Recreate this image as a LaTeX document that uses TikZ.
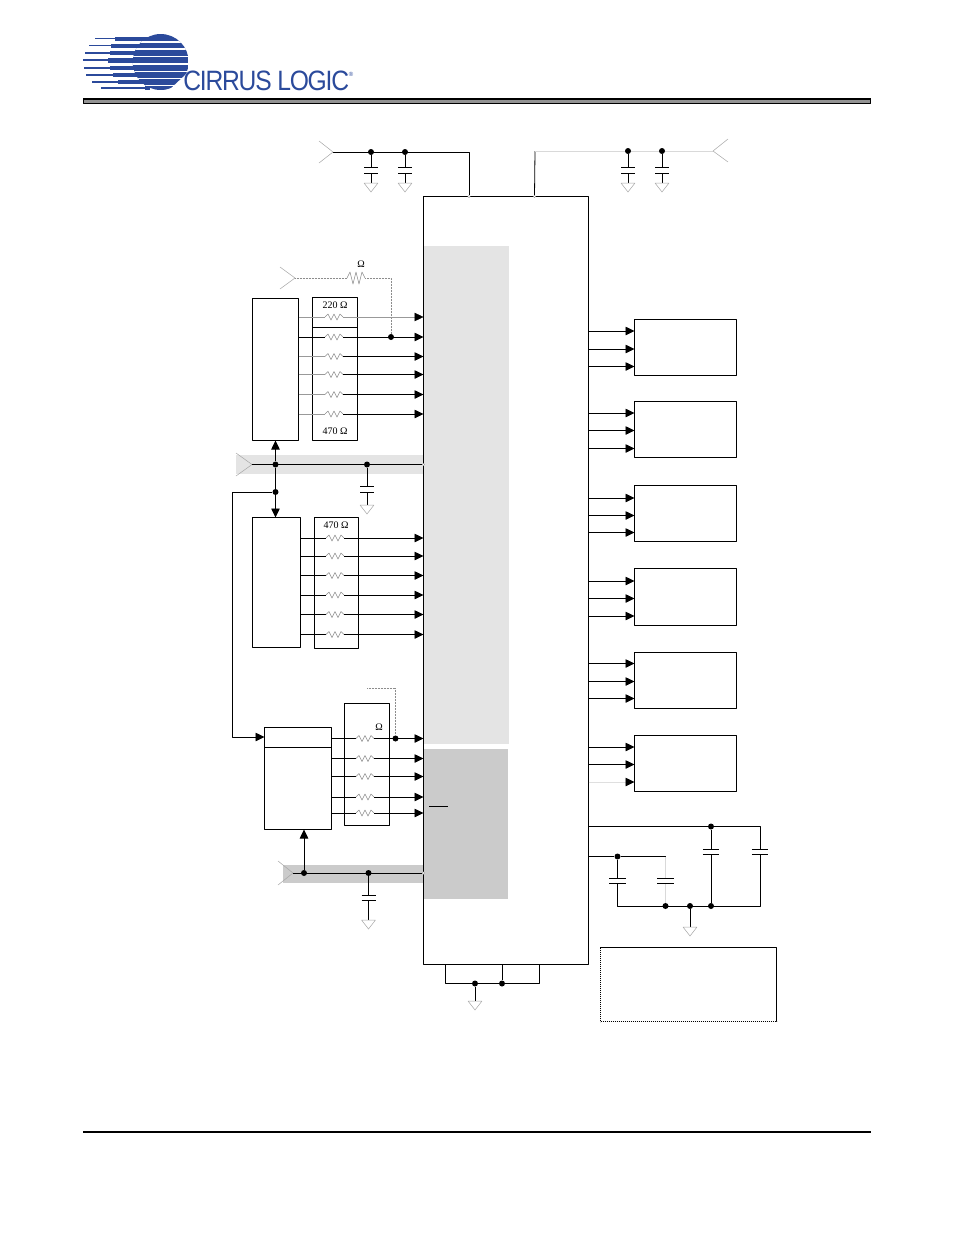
\documentclass[tikz,border=0pt]{standalone}
\usepackage{fontspec}
\setmainfont{Liberation Serif}
\newfontfamily\logofont[LetterSpace=-5]{Liberation Sans}
\usetikzlibrary{arrows.meta}
\definecolor{cirrusblue}{HTML}{2B4A9B}
\definecolor{shadeA}{HTML}{E4E4E4}
\definecolor{shadeB}{HTML}{CBCBCB}
\tikzset{
	block/.style={draw,inner sep=0pt,outer sep=0pt,anchor=north west},
	junc/.style={circle,fill=black,inner sep=0pt,minimum size=6pt},
	pin/.style={circle,draw=gray,fill=white,line width=.3pt,inner sep=0pt,minimum size=2.5pt},
	sig/.style={-{Triangle[length=9pt,width=8.5pt,color=black]}},
	thinw/.style={draw=gray!80,line width=.5pt},
	chev/.style={draw=gray!70,line width=.5pt},
	dotw/.style={draw=gray!90,line width=.6pt,dash pattern=on 1pt off .5pt},
	lab/.style={inner sep=0pt,font=\fontsize{10}{11}\selectfont},
	resis/.pic={\draw[draw=gray!90,line width=.5pt] (-9,0)--(-6,-3)--(-3,3)--(0,-3)--(3,3)--(6,-3)--(9,0);},
	capv/.pic={\draw[line width=.8pt] (-7,-2.8)--(7,-2.8) (-7,2.8)--(7,2.8);},
	gnd/.pic={\draw[chev] (-7,0)--(7,0)--(0,9)--cycle;}
}
\begin{document}
\begin{tikzpicture}[x=1pt,y=-1pt,line width=.8pt,line join=round,>=stealth]
	\useasboundingbox (0,0) rectangle (954,1235);
	% logo
	\begin{scope}
		\clip (160.7,62) circle (28);
		\fill[cirrusblue] (132,34) rectangle (189,90);
		\foreach \y in {42,49,56.3,64,71.3,78.7,85.3}
		\fill[white] (130,\y-.6) rectangle (190,\y+.6);
	\end{scope}
	\foreach \y/\xa/\xb in {38.5/95/115,45.5/89/111,52.7/85/110,60.2/83/108,67.7/84/110,75/86/113,82/92/118,88/101/145}{
		\fill[cirrusblue] (\xa,\y-.9) rectangle (150,\y+.9);
		\fill[cirrusblue] (\xb,\y-1.9) rectangle (150,\y+2.4);
	}
	\fill[white] (190,70.5)--(168,91)--(192,92)--cycle;
	\node[anchor=west,inner sep=0pt,text=cirrusblue] (logotxt) at (183,81) {\scalebox{.88}[1]{\logofont\fontsize{28}{30}\selectfont CIRRUS LOGIC}};
	\node[inner sep=0pt,text=cirrusblue] (regmark) at (351,74) {\logofont\fontsize{6}{6}\selectfont ®};
	% header and footer rules
	\node[block,fill=gray!85,minimum width=787.5,minimum height=5] (hdr) at (83,98.7) {};
	\draw[line width=1.6pt] (hdr.north west)--(hdr.north east);
	\coordinate (ftl) at (83,1132);
	\coordinate (ftr) at (871,1132);
	\draw[line width=1.5pt] (ftl)--(ftr);
	% shaded parts
	\fill[shadeA] (424,246) rectangle (509,744);
	\fill[shadeB] (424,749) rectangle (508,899);
	\fill[shadeA] (236,455) rectangle (423,474);
	\fill[shadeB] (283,865) rectangle (423,883);
	% boxes
	\node[block,minimum width=165,minimum height=768] (chip) at (423.5,196.5) {};
	\node[block,minimum width=46,minimum height=142.5] (bufA) at (252.5,298) {};
	\node[block,minimum width=45,minimum height=143] (netA) at (312.5,297.5) {};
	\node[block,minimum width=48,minimum height=130] (bufB) at (252.5,517.5) {};
	\node[block,minimum width=44,minimum height=131] (netB) at (314.5,517.5) {};
	\node[block,minimum width=67,minimum height=102] (bufC) at (264.5,727.5) {};
	\node[block,minimum width=45,minimum height=122] (netC) at (344.5,703.5) {};
	\foreach \n/\y/\h in {dacA/319.5/56,dacB/401.5/56,dacC/485.5/56,dacD/568.5/57,dacE/652.5/56,dacF/735.5/56}
	\node[block,minimum width=102,minimum height=\h] (\n) at (634.5,\y) {};
	\node[block,dash pattern=on 1.2pt off .8pt,minimum width=176,minimum height=74] (note) at (600.5,947.5) {};
	\draw (netA.west |- 0,327)--(netA.east |- 0,327);
	\draw (bufC.west |- 0,747)--(bufC.east |- 0,747);
	\coordinate (barl) at (429,806);
	\coordinate (barr) at (448,806);
	\draw (barl)--(barr);
	% supply rails
	\coordinate (pva) at (333,152);
	\coordinate (pvd) at (713,151);
	\coordinate (ra) at (469,152);
	\coordinate (rd) at (535,151);
	\node[pin] (pina) at (469,196.5) {};
	\node[pin] (pind) at (534.5,196.5) {};
	\draw (pva)--(ra)--(pina);
	\draw (rd)--(pind);
	\draw[draw=gray!30] (rd)--(pvd);
	\draw[chev] (319,141)--(pva)--(319,163);
	\draw[chev] (728,139)--(pvd)--(728,162);
	\foreach \n/\x/\y in {a/371/152,b/405/152,c/628/151,d/662/151}{
		\node[junc] (j\n) at (\x,\y) {};
		\coordinate (pa\n) at (\x,168);
		\coordinate (pb\n) at (\x,173);
		\coordinate (g\n) at (\x,183);
		\draw (j\n)--(pa\n) (pb\n)--(g\n);
		\pic at (\x,170.5) {capv};
		\pic at (g\n) {gnd};
	}
	% resistor network A
	\coordinate (pclk) at (295,278);
	\coordinate (rsl) at (347,278);
	\coordinate (rsr) at (365,278);
	\coordinate (rsc) at (391,278);
	\node[junc] (jclk) at (391,337) {};
	\draw[chev] (280,267)--(pclk)--(280,289);
	\draw[dotw] (pclk)--(rsl) (rsr)--(rsc)--(jclk);
	\pic[yscale=2] at (356,278) {resis};
	\node[lab] (ohmA) at (361,264) {Ω};
	\node[lab] (topA) at (335,305) {220 Ω};
	\node[lab] (botA) at (335,431) {470 Ω};
	\foreach \y in {317,337,356.5,374.5,394.5,414}{
		\draw[thinw] (bufA.east |- 0,\y)--(325,\y);
		\pic at (334,\y) {resis};
	}
	\draw[thinw,sig] (343,317)--(chip.west |- 0,317);
	\draw (bufA.east |- 0,337)--(325,337);
	\foreach \y in {337,356.5,374.5,394.5,414}
	\draw[sig] (343,\y)--(chip.west |- 0,\y);
	% resistor network B
	\node[lab] (topB) at (336,525) {470 Ω};
	\foreach \y in {538,556,575.5,595,614.5,634.5}{
		\draw (bufB.east |- 0,\y)--(326,\y);
		\pic at (335,\y) {resis};
		\draw[sig] (344,\y)--(chip.west |- 0,\y);
	}
	% resistor network C
	\node[lab] (ohmC) at (379,727) {Ω};
	\foreach \y in {738.5,758.5,776.5,797,813}{
		\draw (bufC.east |- 0,\y)--(356,\y);
		\pic at (365,\y) {resis};
		\draw[sig] (374,\y)--(chip.west |- 0,\y);
	}
	\node[junc] (jrst) at (395.5,738.5) {};
	\coordinate (rstl) at (367,688);
	\coordinate (rstc) at (395.5,688);
	\draw[dotw] (rstl)--(rstc)--(jrst);
	% power bus upper
	\coordinate (pvl) at (252,464.5);
	\node[pin] (pinl) at (423.5,464.5) {};
	\draw[chev] (236,453)--(pvl)--(236,476);
	\draw (pvl)--(pinl);
	\node[junc] (jbusa) at (275.5,464.5) {};
	\node[junc] (jbusb) at (275.5,492) {};
	\node[junc] (jcapl) at (367,464.5) {};
	\draw[sig] (jbusa)--(bufA.south -| jbusa);
	\draw[sig] (jbusa)--(bufB.north -| jbusa);
	\coordinate (ctla) at (232,492);
	\coordinate (ctlb) at (232,737);
	\draw[sig] (jbusb)--(ctla)--(ctlb)--(bufC.west |- ctlb);
	\coordinate (pacl) at (367,486.5);
	\coordinate (pbcl) at (367,492.5);
	\coordinate (gcl) at (367,505);
	\draw (jcapl)--(pacl) (pbcl)--(gcl);
	\pic at (367,489.5) {capv};
	\pic at (gcl) {gnd};
	% power bus lower
	\coordinate (pvb) at (293,873);
	\node[pin] (pinb) at (423.5,873) {};
	\draw[chev] (278,861)--(pvb)--(278,885);
	\draw (pvb)--(pinb);
	\node[junc] (jbusc) at (304,873) {};
	\node[junc] (jcapb) at (368.5,873) {};
	\draw[sig] (jbusc)--(bufC.south -| jbusc);
	\coordinate (pacb) at (368.5,895);
	\coordinate (pbcb) at (368.5,901);
	\coordinate (gcb) at (368.5,920);
	\draw (jcapb)--(pacb) (pbcb)--(gcb);
	\pic at (368.5,898) {capv};
	\pic at (gcb) {gnd};
	% outputs
	\foreach \n/\ya/\yb/\yc in {dacA/331/349/366.5,dacB/413/430.5/448.5,dacC/498/515.5/532.5,dacD/581/598.5/616,dacE/663.5/681.5/698.5}{
		\draw[sig] (chip.east |- 0,\ya)--(\n.west |- 0,\ya);
		\draw[sig] (chip.east |- 0,\yb)--(\n.west |- 0,\yb);
		\draw[sig] (chip.east |- 0,\yc)--(\n.west |- 0,\yc);
	}
	\draw[sig] (chip.east |- 0,747)--(dacF.west |- 0,747);
	\draw[sig] (chip.east |- 0,764.5)--(dacF.west |- 0,764.5);
	\draw[sig,draw=gray!25] (chip.east |- 0,782)--(dacF.west |- 0,782);
	% decoupling lower right
	\node[junc] (jfa) at (711,826.5) {};
	\node[junc] (jfb) at (617.5,856.5) {};
	\node[junc] (jga) at (665.5,906) {};
	\node[junc] (jgb) at (690,906) {};
	\node[junc] (jgc) at (711,906) {};
	\coordinate (tr) at (760,826.5);
	\coordinate (br) at (760,906);
	\coordinate (bl) at (617.5,906);
	\coordinate (mr) at (665.5,856.5);
	\draw (chip.east |- jfa)--(jfa)--(tr)--(760,849) (760,855)--(br)--(bl)--(617.5,884);
	\draw (617.5,878)--(jfb);
	\draw (chip.east |- jfb)--(jfb)--(mr);
	\draw[draw=gray!30] (mr)--(665.5,878) (665.5,884)--(jga);
	\draw (jfa)--(711,849) (711,855)--(jgc);
	\pic[xscale=1.15] at (711,852) {capv};
	\pic[xscale=1.15] at (760,852) {capv};
	\pic[xscale=1.15] at (617.5,881) {capv};
	\pic[xscale=1.15] at (665.5,881) {capv};
	\coordinate (gfl) at (690,927);
	\draw (jgb)--(gfl);
	\pic at (gfl) {gnd};
	% ground tie below the chip
	\coordinate (tl) at (445.5,964.5);
	\coordinate (tb) at (445.5,983.5);
	\coordinate (tc) at (539.5,983.5);
	\coordinate (te) at (539.5,964.5);
	\coordinate (tm) at (502,964.5);
	\node[junc] (jta) at (475,983.5) {};
	\node[junc] (jtb) at (502,983.5) {};
	\coordinate (gtie) at (475,1001);
	\draw (tl)--(tb)--(tc)--(te) (tm)--(jtb) (jta)--(gtie);
	\pic at (gtie) {gnd};
\end{tikzpicture}
\end{document}
